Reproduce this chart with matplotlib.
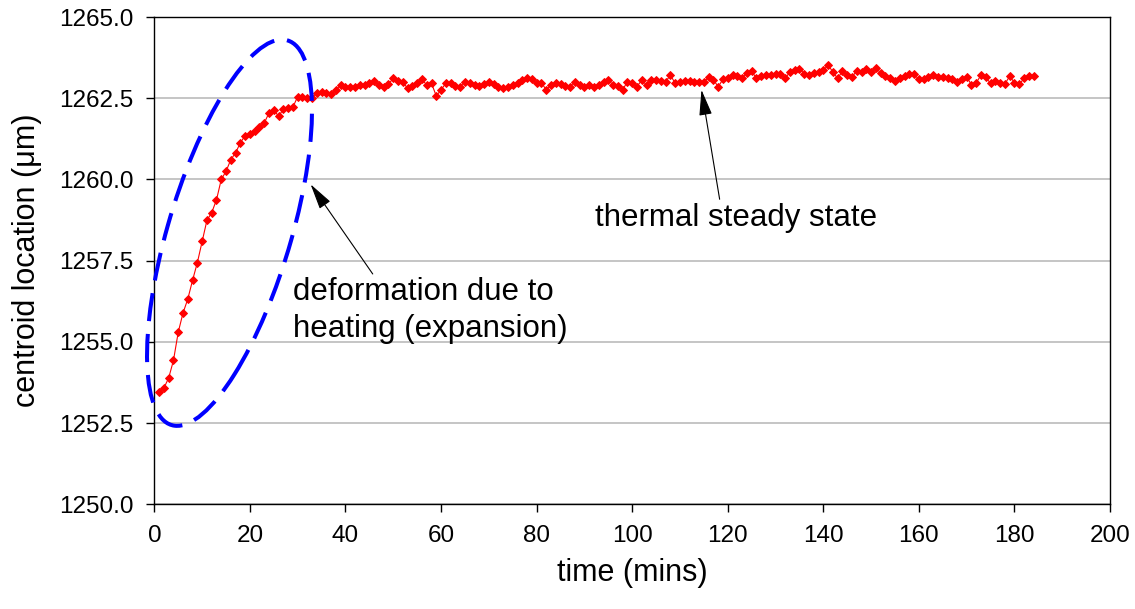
import numpy as np
import matplotlib.pyplot as plt
from matplotlib.patches import Ellipse

plt.rcParams['font.family'] = ['Liberation Sans', 'DejaVu Sans']

# posicion del centroide (um), una lectura por minuto
centroide = [
    1253.46, 1253.58, 1253.89, 1254.43, 1255.30, 1255.89, 1256.32, 1256.90, 1257.44, 1258.09,
    1258.74, 1258.98, 1259.37, 1260.00, 1260.25, 1260.61, 1260.82, 1261.13, 1261.35, 1261.41,
    1261.50, 1261.60, 1261.74, 1262.05, 1262.15, 1261.94, 1262.17, 1262.20, 1262.23, 1262.55,
    1262.55, 1262.50, 1262.50, 1262.65, 1262.68, 1262.65, 1262.62, 1262.76, 1262.91, 1262.86,
    1262.84, 1262.86, 1262.91, 1262.91, 1262.96, 1263.03, 1262.91, 1262.86, 1262.94, 1263.11,
    1263.04, 1262.99, 1262.81, 1262.89, 1262.96, 1263.08, 1262.91, 1262.96, 1262.57, 1262.76,
    1262.96, 1262.96, 1262.88, 1262.86, 1263.01, 1262.96, 1262.91, 1262.88, 1262.94, 1263.01,
    1262.94, 1262.84, 1262.81, 1262.86, 1262.91, 1262.96, 1263.06, 1263.11, 1263.08, 1262.96,
    1262.98, 1262.76, 1262.91, 1262.96, 1262.94, 1262.88, 1262.86, 1263.01, 1262.91, 1262.86,
    1262.91, 1262.86, 1262.91, 1262.99, 1263.06, 1262.91, 1262.88, 1262.76, 1263.01, 1262.96,
    1262.86, 1263.06, 1262.91, 1263.06, 1263.06, 1263.04, 1263.01, 1263.21, 1262.96, 1263.01,
    1263.03, 1263.03, 1263.01, 1262.99, 1263.01, 1263.14, 1263.06, 1262.86, 1263.08, 1263.13,
    1263.21, 1263.18, 1263.11, 1263.28, 1263.34, 1263.11, 1263.18, 1263.21, 1263.21, 1263.26,
    1263.26, 1263.11, 1263.31, 1263.36, 1263.41, 1263.26, 1263.21, 1263.28, 1263.31, 1263.36,
    1263.52, 1263.31, 1263.11, 1263.34, 1263.21, 1263.16, 1263.34, 1263.32, 1263.39, 1263.32,
    1263.42, 1263.29, 1263.18, 1263.11, 1263.04, 1263.11, 1263.18, 1263.24, 1263.24, 1263.08,
    1263.08, 1263.16, 1263.21, 1263.16, 1263.14, 1263.11, 1263.08, 1263.01, 1263.08, 1263.16,
    1262.91, 1262.98, 1263.21, 1263.14, 1262.96, 1263.04, 1262.98, 1262.94, 1263.18, 1262.98,
    1262.93, 1263.11, 1263.18, 1263.18,
]
tiempo = np.arange(1, len(centroide) + 1)

xticks = [0, 20, 40, 60, 80, 100, 120, 140, 160, 180, 200]
yticks = [1250.0, 1252.5, 1255.0, 1257.5, 1260.0, 1262.5, 1265.0]

fig = plt.figure(figsize=(11.35, 6.09), dpi=100)
ax = fig.add_axes([0.136, 0.172, 0.842, 0.800])

ax.plot(tiempo, centroide, color='red', lw=0.8, marker='D', ms=4.0,
        mew=0.7, mec='red', mfc='red', zorder=3)

ax.set_xlim(0, 200)
ax.set_ylim(1250, 1265)
ax.set_xticks(xticks)
ax.set_yticks(yticks)
ax.set_yticklabels(['%.1f' % v for v in yticks])
ax.yaxis.grid(True, color='#c0c0c0', lw=1.3)
ax.set_axisbelow(True)
for s in ax.spines.values():
    s.set_color('black')
    s.set_linewidth(1.0)
ax.tick_params(direction='out', length=6, width=1, labelsize=17.5, pad=9)

ax.set_xlabel('time (mins)', fontsize=22, labelpad=8)
ax.set_ylabel('centroid location (\u03bcm)', fontsize=22, labelpad=12)

# elipse que marca la zona de calentamiento
elipse = Ellipse((15.73, 1258.36), width=2 * 17.7, height=2 * 4.48, angle=13.2,
                 fill=False, ec='blue', lw=2.9, ls=(0, (7.0, 3.2)), clip_on=False, zorder=4)
ax.add_patch(elipse)

# anotaciones
flecha = dict(arrowstyle='-|>,head_length=0.8,head_width=0.2', color='black',
              lw=0.8, shrinkA=0, shrinkB=0, mutation_scale=20)
ax.annotate('', xy=(32.7, 1259.85), xytext=(45.7, 1257.09), arrowprops=flecha)
ax.annotate('', xy=(114.5, 1262.76), xytext=(118.3, 1259.39), arrowprops=flecha)
ax.text(29.1, 1255.15, 'deformation due to\nheating (expansion)', fontsize=22.5,
        va='baseline', ha='left', linespacing=1.3)
ax.text(92.2, 1258.57, 'thermal steady state', fontsize=22.5, va='baseline', ha='left')

fig.savefig('out.png', dpi=100)
